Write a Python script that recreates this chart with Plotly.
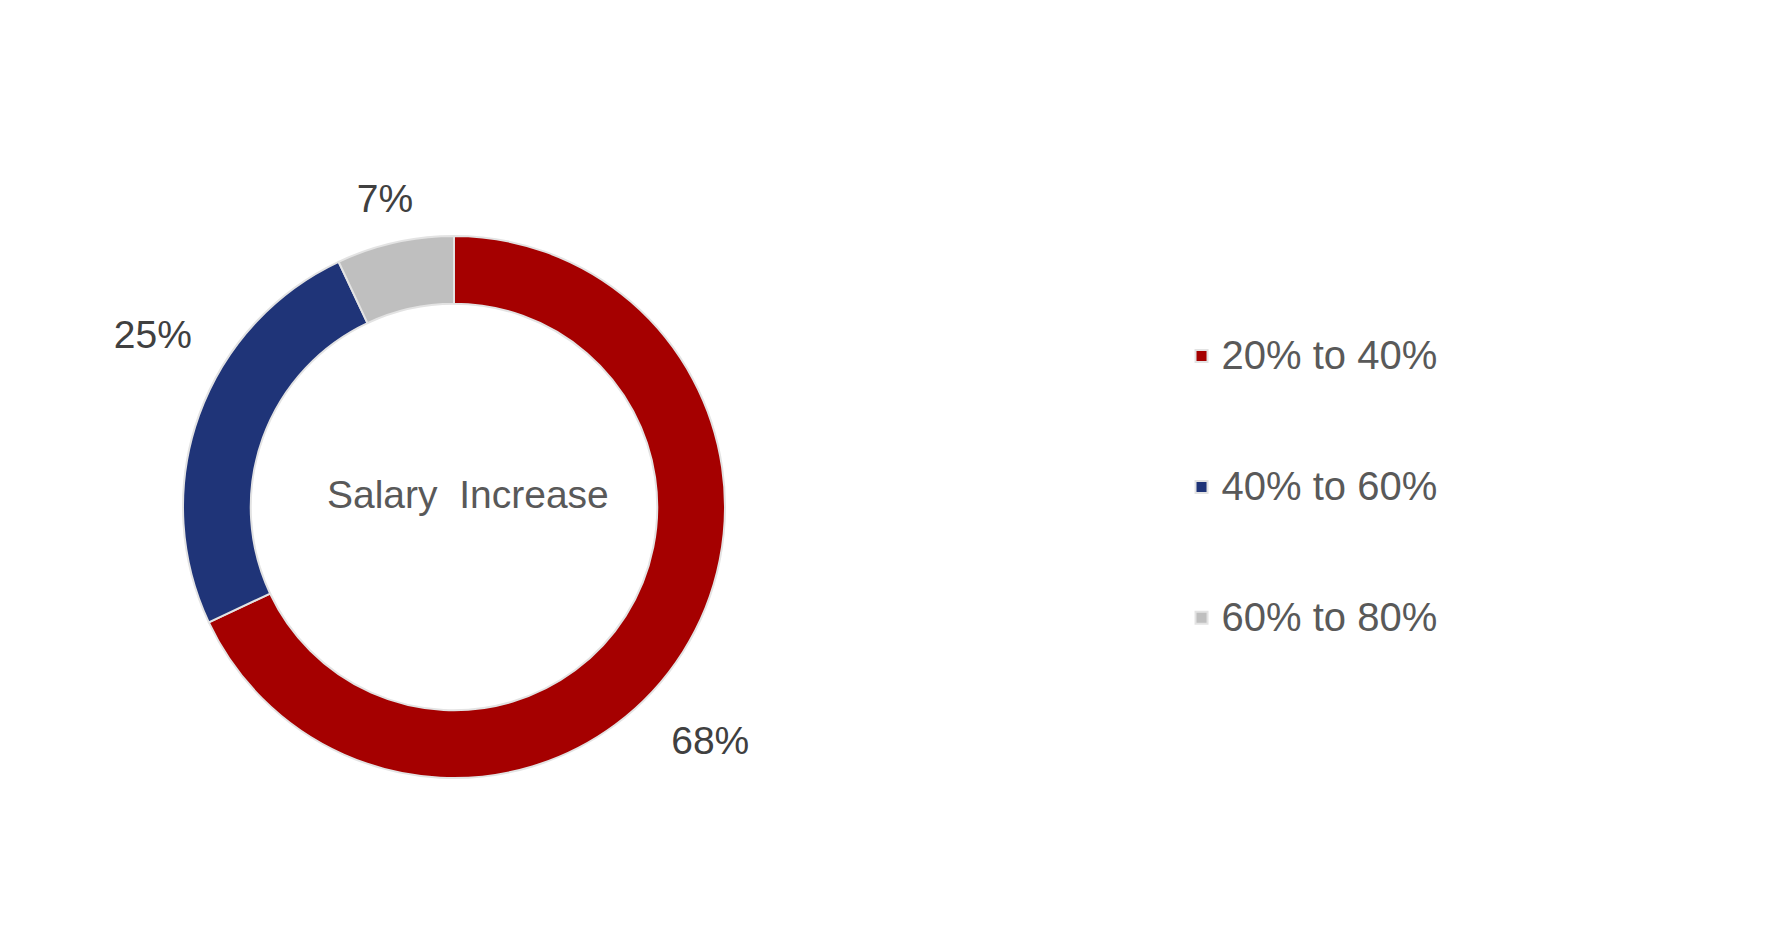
import plotly.graph_objects as go

categories = ["20% to 40%", "40% to 60%", "60% to 80%"]
values = [68, 25, 7]
colors = ["#A50000", "#1F3478", "#BFBFBF"]
center_label = "Salary  Increase"

W, H = 1791, 947
CX, CY = 454, 507   # donut centre in pixels
R_RING = 271        # donut radius
# label rings (style only): which slices each ring labels, its radius, hole and rotation
LABEL_RINGS = [
    dict(slices=[0, 1], radius=397, hole=0.748, rotation=10),
    dict(slices=[2], radius=366, hole=0.727, rotation=0),
]


def dom(r):
    return dict(x=[(CX - r) / W, (CX + r) / W], y=[1 - (CY + r) / H, 1 - (CY - r) / H])


total = sum(values)
pct_text = ["%d%%" % round(100 * v / total) for v in values]

# legend entries: blank line above/below to give the roomy spacing of the original
legend_labels = [" <br><span style='font-size:40px'>%s</span><br> " % c for c in categories]

fig = go.Figure()
fig.add_trace(go.Pie(
    labels=legend_labels,
    values=values,
    sort=False,
    direction="clockwise",
    rotation=0,
    hole=0.75,
    marker=dict(colors=colors, line=dict(color="#E3E3E3", width=2)),
    textinfo="none",
    domain=dom(R_RING),
    hoverinfo="skip",
    showlegend=True,
))

# transparent outer rings carrying the percentage labels
for ring in LABEL_RINGS:
    fig.add_trace(go.Pie(
        labels=categories,
        values=values,
        text=[t if i in ring["slices"] else "" for i, t in enumerate(pct_text)],
        sort=False,
        direction="clockwise",
        rotation=ring["rotation"],
        hole=ring["hole"],
        marker=dict(colors=["rgba(0,0,0,0)"] * len(values), line=dict(width=0)),
        textinfo="text",
        textposition="inside",
        insidetextorientation="horizontal",
        insidetextfont=dict(family="Liberation Sans", size=39, color="#404040"),
        domain=dom(ring["radius"]),
        hoverinfo="skip",
        showlegend=False,
    ))

fig.add_annotation(
    text=center_label, x=468 / W, y=1 - 494 / H, xref="paper", yref="paper",
    showarrow=False, font=dict(family="Liberation Sans", size=39, color="#595959"),
    xanchor="center", yanchor="middle",
)

fig.update_layout(
    width=W, height=H,
    margin=dict(l=0, r=0, t=0, b=0),
    paper_bgcolor="white", plot_bgcolor="white",
    showlegend=True,
    legend=dict(
        x=0.6597, y=1 - 487 / H, xanchor="left", yanchor="middle",
        font=dict(family="Liberation Sans", size=32.8, color="#595959"),
        bgcolor="rgba(0,0,0,0)",
    ),
)

fig.write_html("out.html", config={"displayModeBar": False},
               post_script="document.body.style.margin='0px';")
